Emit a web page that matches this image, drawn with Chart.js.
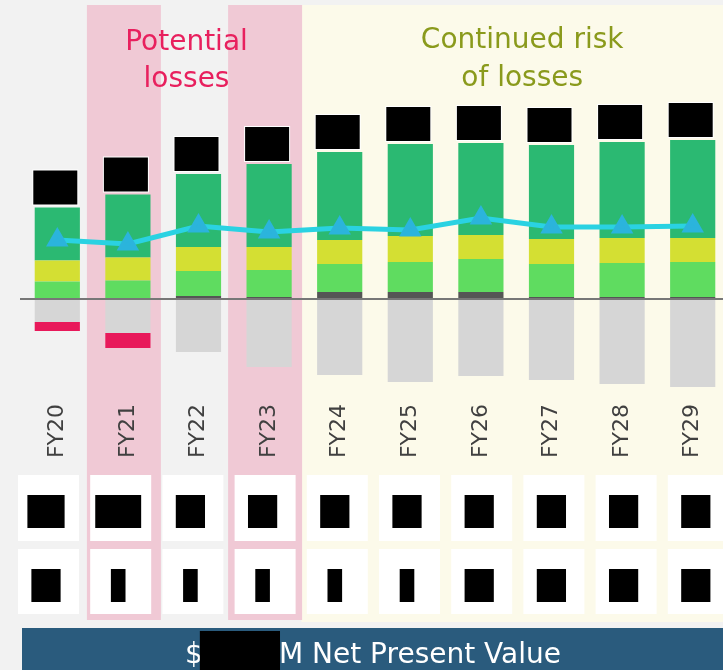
<!DOCTYPE html>
<html>
<head>
<meta charset="utf-8">
<script src="https://cdn.jsdelivr.net/npm/chart.js@4.4.0/dist/chart.umd.min.js"></script>
<style>
  html, body { margin: 0; padding: 0; background: #f2f2f2; overflow: hidden; }
  #wrap { width: 723px; height: 670px; overflow: hidden; }
</style>
</head>
<body>
<div id="wrap"><canvas id="npvChart" width="728" height="670"></canvas></div>
<script>
// Data ($M)
const years = ['FY20', 'FY21', 'FY22', 'FY23', 'FY24', 'FY25', 'FY26', 'FY27', 'FY28', 'FY29'];
const baseCost  = [0.5, 0.5, 3, 2, 7, 7, 7, 2, 2, 2];
const lowTier   = [17, 18, 25, 27, 28, 30, 33, 33, 34, 35];
const midTier   = [21, 23, 24, 23, 24, 26, 24, 25, 25, 24];
const topTier   = [53, 63, 73, 83, 88, 92, 92, 94, 96, 98];
const offsets   = [-23, -34, -53, -68, -76, -83, -77, -81, -85, -88];
const losses    = [-9, -15, null, null, null, null, null, null, null, null];
const netTrend  = [59, 55, 73, 67, 71, 69, 81, 72, 72, 73];

const lossYears = ['FY21', 'FY23'];
const riskFrom = 'FY24';

// redacted figures in the table rows and footer (only their length is known)
const row1Redacted = ['0.0', '-0.0', '00', '00', '00', '00', '00', '00', '00', '00'];
const row2Redacted = ['00', '0', '0', '0', '0', '0', '00', '00', '00', '00'];
const npvRedacted = '0,000';

const backdrop = {
    id: 'backdrop',
    beforeDraw(chart) {
        const { ctx, scales: { x } } = chart;
        const half = (x.getPixelForValue(1) - x.getPixelForValue(0)) / 2;
        ctx.save();
        ctx.fillStyle = '#f2f2f2';
        ctx.fillRect(0, 0, chart.width, chart.height);

        // continued risk band
        const riskLeft = x.getPixelForValue(years.indexOf(riskFrom)) - half - 3;
        ctx.fillStyle = '#fcfaea';
        ctx.fillRect(riskLeft, 5, chart.width - riskLeft, 617);

        // potential losses bands
        ctx.fillStyle = '#f0c9d5';
        lossYears.forEach(fy => {
            const c = x.getPixelForValue(years.indexOf(fy));
            ctx.fillRect(c - 41, 5, 74, 615);
        });

        // titles
        ctx.font = '28px "DejaVu Sans"';
        ctx.textAlign = 'center';
        ctx.textBaseline = 'alphabetic';
        const lossMid = (x.getPixelForValue(1) + x.getPixelForValue(3)) / 2 - 12;
        ctx.fillStyle = '#e8205e';
        ctx.fillText('Potential', lossMid, 50);
        ctx.fillText('losses', lossMid, 87);
        const riskMid = (x.getPixelForValue(4) + x.getPixelForValue(9)) / 2 + 6;
        ctx.fillStyle = '#8a9a1c';
        ctx.fillText('Continued risk', riskMid, 48);
        ctx.fillText('of losses', riskMid, 86);
        ctx.restore();
    },
    afterDatasetsDraw(chart) {
        const { ctx, scales: { x, y } } = chart;
        ctx.save();

        // zero line
        const y0 = y.getPixelForValue(0);
        ctx.strokeStyle = '#777777';
        ctx.lineWidth = 2;
        ctx.beginPath();
        ctx.moveTo(20, y0);
        ctx.lineTo(chart.width, y0);
        ctx.stroke();

        // redacted value labels above the bars
        chart.getDatasetMeta(3).data.forEach(bar => {
            const bx = bar.x - 24;
            const by = bar.y - 37;
            ctx.fillStyle = '#ffffff';
            ctx.fillRect(bx - 1, by - 1, 46, 36);
            ctx.fillStyle = '#000000';
            ctx.fillRect(bx, by, 44, 34);
        });

        // FY labels
        ctx.font = '22px "DejaVu Sans"';
        ctx.fillStyle = '#404040';
        ctx.textAlign = 'right';
        ctx.textBaseline = 'middle';
        years.forEach((fy, i) => {
            ctx.save();
            ctx.translate(x.getPixelForValue(i), 404);
            ctx.rotate(-Math.PI / 2);
            ctx.fillText(fy, 0, 0);
            ctx.restore();
        });

        // table rows
        ctx.font = 'bold 21px "DejaVu Sans"';
        const rows = [[475, 66, row1Redacted], [549, 65, row2Redacted]];
        years.forEach((fy, i) => {
            const cx = 48 + 72.2 * i;
            rows.forEach(([top, h, vals]) => {
                ctx.fillStyle = '#ffffff';
                ctx.fillRect(cx - 30, top, 61, h);
                const w = ctx.measureText(vals[i]).width;
                ctx.fillStyle = '#000000';
                ctx.fillRect(cx - 2 - w / 2, top + 20, w, 33);
            });
        });

        // NPV footer
        ctx.fillStyle = '#2a5b7d';
        ctx.fillRect(22, 628, chart.width - 22, 42);
        ctx.font = '28px "DejaVu Sans"';
        ctx.textAlign = 'left';
        ctx.textBaseline = 'alphabetic';
        const pre = '$', post = 'M Net Present Value';
        const w1 = ctx.measureText(pre).width;
        const w2 = ctx.measureText(npvRedacted).width;
        const w3 = ctx.measureText(post).width;
        let sx = (22 + chart.width) / 2 - (w1 + w2 + w3) / 2;
        ctx.fillStyle = '#ffffff';
        ctx.fillText(pre, sx, 663);
        ctx.fillStyle = '#000000';
        ctx.fillRect(sx + w1 - 3, 631, w2, 39);
        ctx.fillStyle = '#ffffff';
        ctx.fillText(post, sx + w1 + w2 - 4, 663);
        ctx.restore();
    }
};

const ctx = document.getElementById('npvChart').getContext('2d');
const npvChart = new Chart(ctx, {
    type: 'bar',
    data: {
        labels: years,
        datasets: [
            { label: 'Base', data: baseCost, backgroundColor: '#555555' },
            { label: 'Low', data: lowTier, backgroundColor: '#5fdc60' },
            { label: 'Mid', data: midTier, backgroundColor: '#d4df33' },
            { label: 'Top', data: topTier, backgroundColor: '#2bb972' },
            { label: 'Offsets', data: offsets, backgroundColor: '#d6d6d6' },
            { label: 'Losses', data: losses, backgroundColor: '#e8195a' },
            {
                type: 'line',
                label: 'Net',
                data: netTrend,
                stack: 'net',
                order: -1,
                borderColor: '#2ad2e2',
                borderWidth: 5,
                pointStyle: 'triangle',
                pointRadius: 8,
                pointBackgroundColor: '#2bb4dc',
                pointBorderColor: '#2bb4dc',
                tension: 0
            }
        ]
    },
    options: {
        responsive: false,
        animation: false,
        devicePixelRatio: 1,
        layout: { autoPadding: false, padding: { top: 99, bottom: 271, left: 22, right: 0 } },
        datasets: { bar: { categoryPercentage: 0.64, barPercentage: 1 } },
        scales: {
            x: { display: false, stacked: true },
            y: { display: false, stacked: true, min: -100, max: 200 }
        },
        plugins: { legend: { display: false }, tooltip: { enabled: false } }
    },
    plugins: [backdrop]
});
</script>
</body>
</html>
